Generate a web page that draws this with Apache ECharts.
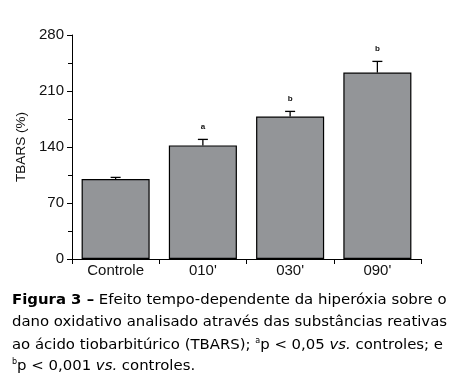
<!DOCTYPE html>
<html><head><meta charset="utf-8">
<script src="https://cdn.jsdelivr.net/npm/echarts@6/dist/echarts.min.js"></script>
<style>html,body{margin:0;padding:0;background:#fff}#c{width:458px;height:391px}</style>
</head><body><div id="c"></div>
<script>
const categories = ['Controle', "010'", "030'", "090'"];
const means = [100, 142, 178, 233];
const errors = [2, 7.5, 6.5, 14];
const sigLabels = ['', 'a', 'b', 'b'];
const yTicks = [0, 70, 140, 210, 280];

const font = 'Liberation Sans';
const capFont = 'DejaVu Sans';
const cs = 14.9;
const chart = echarts.init(document.getElementById('c'));
const rich = {
  b: {fontFamily: capFont, fontSize: cs, fontWeight: 'bold', color: '#111'},
  n: {fontFamily: capFont, fontSize: cs, color: '#111'},
  i: {fontFamily: capFont, fontSize: cs, fontStyle: 'italic', color: '#111'},
  s: {fontFamily: capFont, fontSize: 8, color: '#111', verticalAlign: 'top', padding: [0,0,8,0]}
};
function capLine(y, text) {
  return {type: 'text', left: 12, top: y, style: {text: text, rich: rich, font: cs + 'px ' + capFont}};
}
chart.setOption({
  animation: false,
  grid: {left: 72, right: 37, top: 35, bottom: 132},
  xAxis: {
    type: 'category', data: categories,
    axisLine: {lineStyle: {color: '#000', width: 1}},
    axisTick: {show: true, length: 5, lineStyle: {color: '#000'}},
    axisLabel: {color: '#111', fontFamily: font, fontSize: 15, margin: 4}
  },
  yAxis: {
    type: 'value', min: yTicks[0], max: yTicks[yTicks.length - 1], interval: 70,
    name: 'TBARS (%)', nameLocation: 'middle', nameGap: 33,
    nameTextStyle: {color: '#111', fontFamily: font, fontSize: 13.5},
    axisLine: {show: true, lineStyle: {color: '#000', width: 1}},
    axisTick: {show: true, length: 5, lineStyle: {color: '#000'}},
    minorTick: {show: true, splitNumber: 2, length: 4, lineStyle: {color: '#000'}},
    splitLine: {show: false},
    axisLabel: {color: '#111', fontFamily: font, fontSize: 15, margin: 8}
  },
  series: [{
    type: 'bar', data: means, barWidth: '78%',
    itemStyle: {color: '#939598', borderColor: '#000', borderWidth: 1.2}
  }, {
    type: 'custom',
    data: means.map((m, i) => [i, m, m + errors[i], sigLabels[i]]),
    renderItem: function (params, api) {
      const base = api.coord([api.value(0), api.value(1)]);
      const top = api.coord([api.value(0), api.value(2)]);
      const cw = 5;
      const children = [
        {type: 'line', shape: {x1: base[0], y1: base[1], x2: top[0], y2: top[1]}, style: {stroke: '#000', lineWidth: 1.3}},
        {type: 'line', shape: {x1: top[0] - cw, y1: top[1], x2: top[0] + cw, y2: top[1]}, style: {stroke: '#000', lineWidth: 1.3}}
      ];
      const lab = sigLabels[params.dataIndex];
      if (lab) {
        children.push({type: 'text', x: top[0], y: top[1] - 9, style: {text: lab, fontFamily: font, fontSize: 8, fontWeight: 'bold', fill: '#111', align: 'center', verticalAlign: 'bottom'}});
      }
      return {type: 'group', children: children};
    },
    z: 5
  }],
  graphic: [
    capLine(293, '{b|Figura 3 –}{n| Efeito tempo-dependente da hiperóxia sobre o}'),
    capLine(315, '{n|dano oxidativo analisado através das substâncias reativas}'),
    capLine(337, '{n|ao ácido tiobarbitúrico (TBARS); }{s|a}{n|p < 0,05 }{i|vs.}{n| controles; e}'),
    capLine(358, '{s|b}{n|p < 0,001 }{i|vs.}{n| controles.}')
  ]
});
</script></body></html>
